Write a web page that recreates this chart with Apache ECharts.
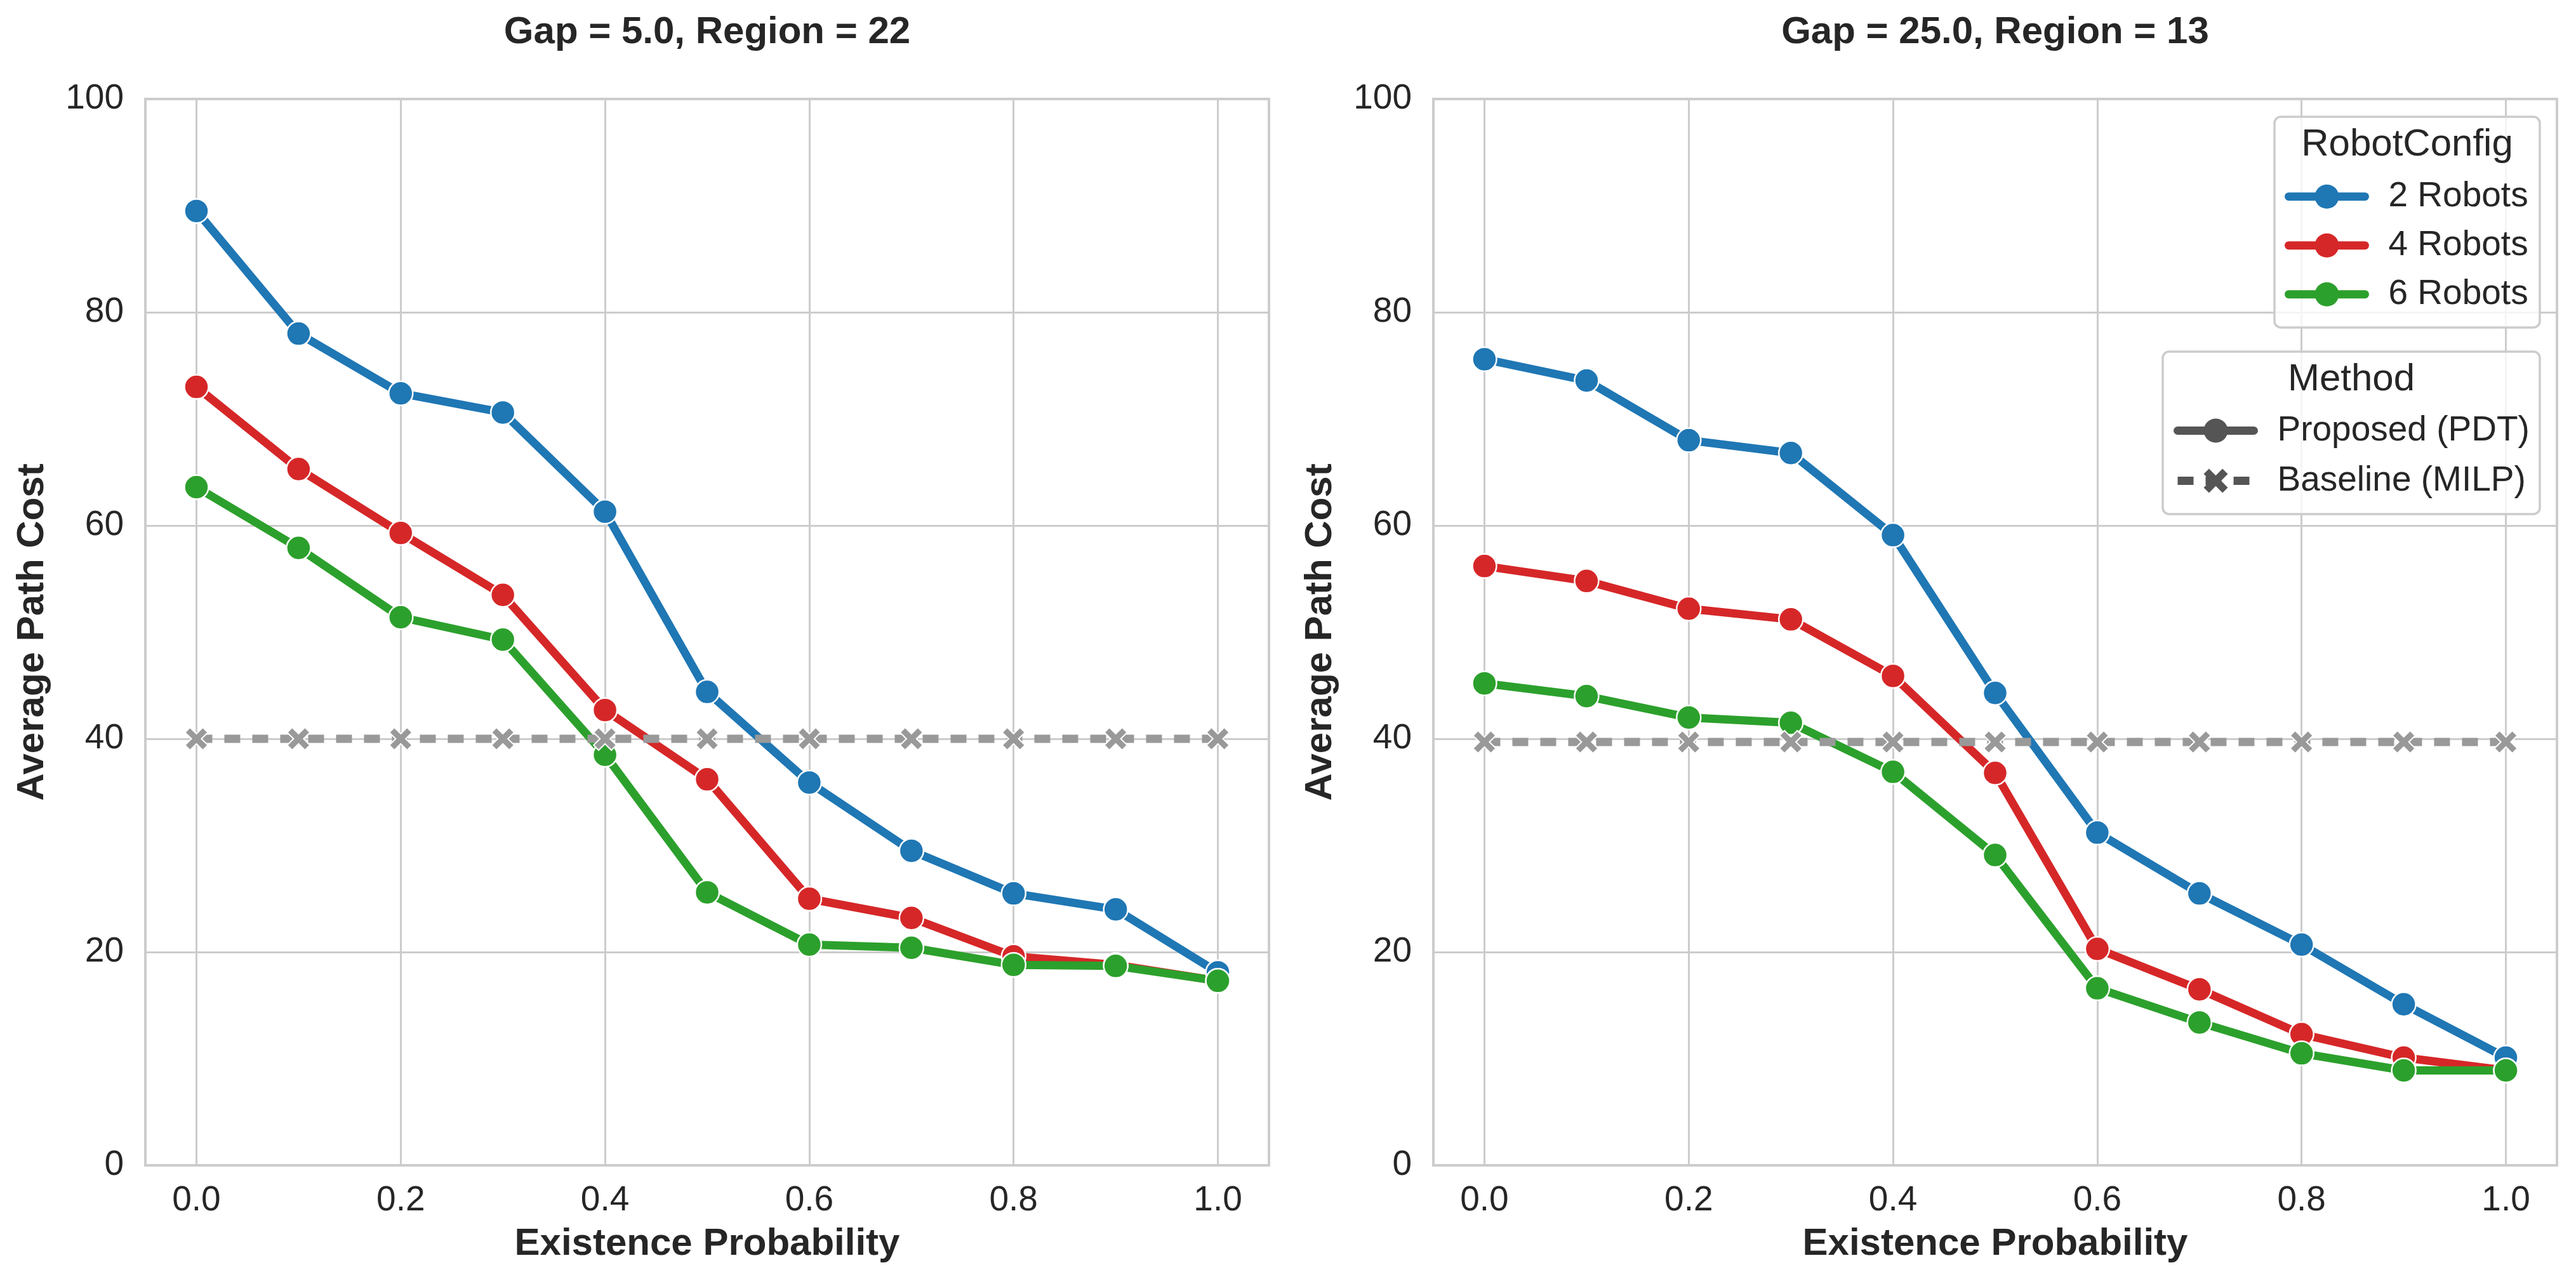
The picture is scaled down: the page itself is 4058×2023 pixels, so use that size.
<!DOCTYPE html>
<html><head><meta charset="utf-8">
<script src="https://cdn.jsdelivr.net/npm/echarts@6/dist/echarts.min.js"></script>
<style>html,body{margin:0;padding:0;background:#fff}#c{width:4058px;height:2023px}</style>
</head><body><div id="c"></div>
<script>
// ---------------- data ----------------
const probabilities = [0.0, 0.1, 0.2, 0.3, 0.4, 0.5, 0.6, 0.7, 0.8, 0.9, 1.0];
const panelTitles = ['Gap = 5.0, Region = 22', 'Gap = 25.0, Region = 13'];
const robotConfigs = ['2 Robots', '4 Robots', '6 Robots'];
const methods = ['Proposed (PDT)', 'Baseline (MILP)'];

// Panel 1: Gap = 5.0, Region = 22
const gap5_2robots = [89.5, 78.0, 72.4, 70.6, 61.3, 44.4, 35.9, 29.5, 25.5, 24.0, 18.1];
const gap5_4robots = [73.0, 65.3, 59.3, 53.5, 42.7, 36.2, 25.0, 23.2, 19.6, 18.8, 17.3];
const gap5_6robots = [63.6, 57.9, 51.4, 49.3, 38.5, 25.6, 20.7, 20.4, 18.8, 18.7, 17.3];
const gap5_baseline = [40.0, 40.0, 40.0, 40.0, 40.0, 40.0, 40.0, 40.0, 40.0, 40.0, 40.0];

// Panel 2: Gap = 25.0, Region = 13
const gap25_2robots = [75.6, 73.6, 68.0, 66.8, 59.1, 44.3, 31.2, 25.5, 20.7, 15.1, 10.1];
const gap25_4robots = [56.2, 54.8, 52.2, 51.2, 45.9, 36.8, 20.3, 16.5, 12.3, 10.1, 8.9];
const gap25_6robots = [45.2, 44.0, 42.0, 41.5, 36.9, 29.1, 16.6, 13.4, 10.5, 8.9, 8.9];
const gap25_baseline = [39.7, 39.7, 39.7, 39.7, 39.7, 39.7, 39.7, 39.7, 39.7, 39.7, 39.7];

const xTickLabels = ['0.0', '0.2', '0.4', '0.6', '0.8', '1.0'];
const yTickLabels = ['0', '20', '40', '60', '80', '100'];

// ---------------- styling ----------------
const FONT = "'Liberation Sans', Arial, sans-serif";
const TXT = '#262626';
const colors = ['#1f77b4', '#d62728', '#2ca02c'];
const baseColor = '#999999';
const legendGrey = '#555555';
const XPATH = 'path://M0.22,0 L0.5,0.28 L0.78,0 L1,0.22 L0.72,0.5 L1,0.78 L0.78,1 L0.5,0.72 L0.22,1 L0,0.78 L0.28,0.5 L0,0.22 Z';
const DASH = [25, 19];
const LW = 13;

const panels = [
  {robots: [gap5_2robots, gap5_4robots, gap5_6robots], base: gap5_baseline},
  {robots: [gap25_2robots, gap25_4robots, gap25_6robots], base: gap25_baseline}
];

const grids = [
  {left: 229, top: 156, width: 1770, height: 1680},
  {left: 2258, top: 156, width: 1770, height: 1680}
];

function pairs(vals) { return probabilities.map((p, i) => [p, vals[i]]); }

const xAxes = grids.map((g, i) => ({
  type: 'value', gridIndex: i, min: -0.05, max: 1.05, splitNumber: 5,
  axisLine: {show: false}, axisTick: {show: false},
  axisLabel: {
    show: true, fontFamily: FONT, fontSize: 55, color: TXT, margin: 28,
    showMinLabel: false, showMaxLabel: false,
    formatter: v => {
      const s = (Math.round(v * 10) / 10).toFixed(1);
      return xTickLabels.indexOf(s) >= 0 ? s : '';
    }
  },
  splitLine: {show: true, lineStyle: {color: '#cccccc', width: 3}},
  name: 'Existence Probability', nameLocation: 'middle', nameGap: 94,
  nameTextStyle: {fontFamily: FONT, fontSize: 60, fontWeight: 'bold', color: TXT}
}));

const yAxes = grids.map((g, i) => ({
  type: 'value', gridIndex: i, min: 0, max: 100, interval: 20,
  axisLine: {show: false}, axisTick: {show: false},
  axisLabel: {fontFamily: FONT, fontSize: 55, color: TXT, margin: 34,
    formatter: v => yTickLabels[Math.round(v / 20)]},
  splitLine: {show: true, lineStyle: {color: '#cccccc', width: 3}},
  name: 'Average Path Cost', nameLocation: 'middle', nameGap: 148,
  nameTextStyle: {fontFamily: FONT, fontSize: 60, fontWeight: 'bold', color: TXT}
}));

const series = [];
panels.forEach((p, gi) => {
  p.robots.forEach((vals, ri) => {
    series.push({
      type: 'line', name: robotConfigs[ri], xAxisIndex: gi, yAxisIndex: gi,
      data: pairs(vals), symbol: 'circle', symbolSize: 38, showSymbol: true,
      color: colors[ri],
      lineStyle: {width: LW, color: colors[ri], cap: 'round', join: 'round'},
      itemStyle: {color: colors[ri], borderColor: '#ffffff', borderWidth: 2.5},
      emphasis: {disabled: true}, z: 2
    });
  });
  series.push({
    type: 'line', name: 'baseline-' + gi, xAxisIndex: gi, yAxisIndex: gi,
    data: pairs(p.base), symbol: XPATH, symbolSize: 36, showSymbol: true,
    color: baseColor,
    lineStyle: {width: LW, color: baseColor, type: DASH},
    itemStyle: {color: baseColor, borderColor: '#ffffff', borderWidth: 2},
    emphasis: {disabled: true}, z: 3
  });
});
// legend-only series for Method
series.push({
  type: 'line', name: methods[0], xAxisIndex: 1, yAxisIndex: 1, data: [],
  symbol: 'circle', color: legendGrey,
  lineStyle: {width: LW, color: legendGrey}, itemStyle: {color: legendGrey}
});
series.push({
  type: 'line', name: methods[1], xAxisIndex: 1, yAxisIndex: 1, data: [],
  symbol: XPATH, color: legendGrey,
  lineStyle: {width: LW, color: legendGrey, type: DASH}, itemStyle: {color: legendGrey}
});

const legendCommon = {
  orient: 'vertical', padding: 0, itemWidth: 120, itemHeight: 47.5,
  selectedMode: false, z: 6,
  itemStyle: {borderWidth: 0},
  lineStyle: {width: LW, cap: 'round'},
  textStyle: {fontFamily: FONT, fontSize: 55, color: TXT, lineHeight: 56, padding: [0, 0, 0, 32]}
};

const option = {
  animation: false,
  backgroundColor: '#ffffff',
  grid: grids.map(g => Object.assign({show: true, borderColor: '#cccccc', borderWidth: 4, backgroundColor: 'transparent'}, g)),
  xAxis: xAxes,
  yAxis: yAxes,
  legend: [
    Object.assign({}, legendCommon, {data: robotConfigs, left: 3599, top: 281.7, itemGap: 21}),
    Object.assign({}, legendCommon, {
      data: [
        {name: methods[0], lineStyle: {width: LW, type: 'solid', cap: 'round'}},
        {name: methods[1], lineStyle: {width: LW, type: DASH, cap: 'butt'}}
      ],
      left: 3424, top: 650.5, itemGap: 23})
  ],
  graphic: [
    {type: 'text', x: 1114, y: 51, z: 10, style: {text: panelTitles[0], fontFamily: FONT, fontSize: 60, fontWeight: 'bold', fill: TXT, align: 'center', verticalAlign: 'middle'}},
    {type: 'text', x: 3143, y: 51, z: 10, style: {text: panelTitles[1], fontFamily: FONT, fontSize: 60, fontWeight: 'bold', fill: TXT, align: 'center', verticalAlign: 'middle'}},
    {type: 'rect', z: 5, shape: {x: 3583, y: 184, width: 418, height: 332, r: 10}, style: {fill: 'rgba(255,255,255,0.8)', stroke: '#cccccc', lineWidth: 3.5}},
    {type: 'text', x: 3792, y: 228, z: 7, style: {text: 'RobotConfig', fontFamily: FONT, fontSize: 60, fill: TXT, align: 'center', verticalAlign: 'middle'}},
    {type: 'rect', z: 5, shape: {x: 3407, y: 554, width: 594, height: 256, r: 10}, style: {fill: 'rgba(255,255,255,0.8)', stroke: '#cccccc', lineWidth: 3.5}},
    {type: 'text', x: 3704, y: 598, z: 7, style: {text: 'Method', fontFamily: FONT, fontSize: 60, fill: TXT, align: 'center', verticalAlign: 'middle'}}
  ],
  series: series
};

const chart = echarts.init(document.getElementById('c'), null, {renderer: 'canvas', width: 4058, height: 2023});
chart.setOption(option);
</script>
</body></html>
